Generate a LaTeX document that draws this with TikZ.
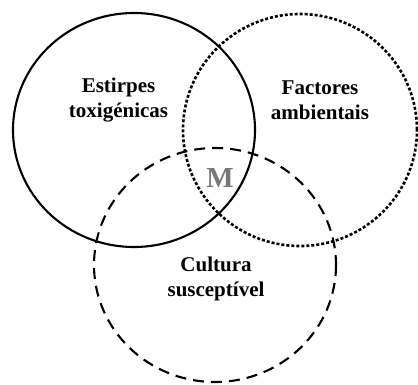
\documentclass[tikz,border=0pt]{standalone}
\usepackage{fontspec}
\setmainfont{Liberation Serif}
\usepackage{tikz}
\usetikzlibrary{positioning}
\definecolor{mgray}{RGB}{120,120,120}

\begin{document}
\begin{tikzpicture}[x=1pt, y=-1pt,
    label text/.style={font=\bfseries\fontsize{21}{25}\selectfont, align=center},
    set line/.style={line width=2.1pt}]
    \useasboundingbox (0,0) rectangle (418,385);

    % Centres of the three sets
    \coordinate (E) at (134,130);
    \coordinate (F) at (300,130);
    \coordinate (C) at (215,265);

    % Set borders
    \draw[set line] (E) ellipse [x radius=121, y radius=117];
    \draw[line cap=rect, dash pattern=on 0.4pt off 4.6pt, line width=2.6pt] (F) ellipse [x radius=117, y radius=116];
    \draw[set line, dash pattern=on 11pt off 7pt] (C) ellipse [x radius=121, y radius=117];

    % Labels
    \node[label text] (estirpes) at (118.5,100) {Estirpes\\toxigénicas};
    \node[label text] (factores) at (320,100) {Factores\\ambientais};
    \node[label text] (cultura) at (216,279) {Cultura\\susceptível};
    \node[font=\bfseries\fontsize{29}{30}\selectfont, text=mgray] (M) at (220,178) {M};
\end{tikzpicture}
\end{document}
